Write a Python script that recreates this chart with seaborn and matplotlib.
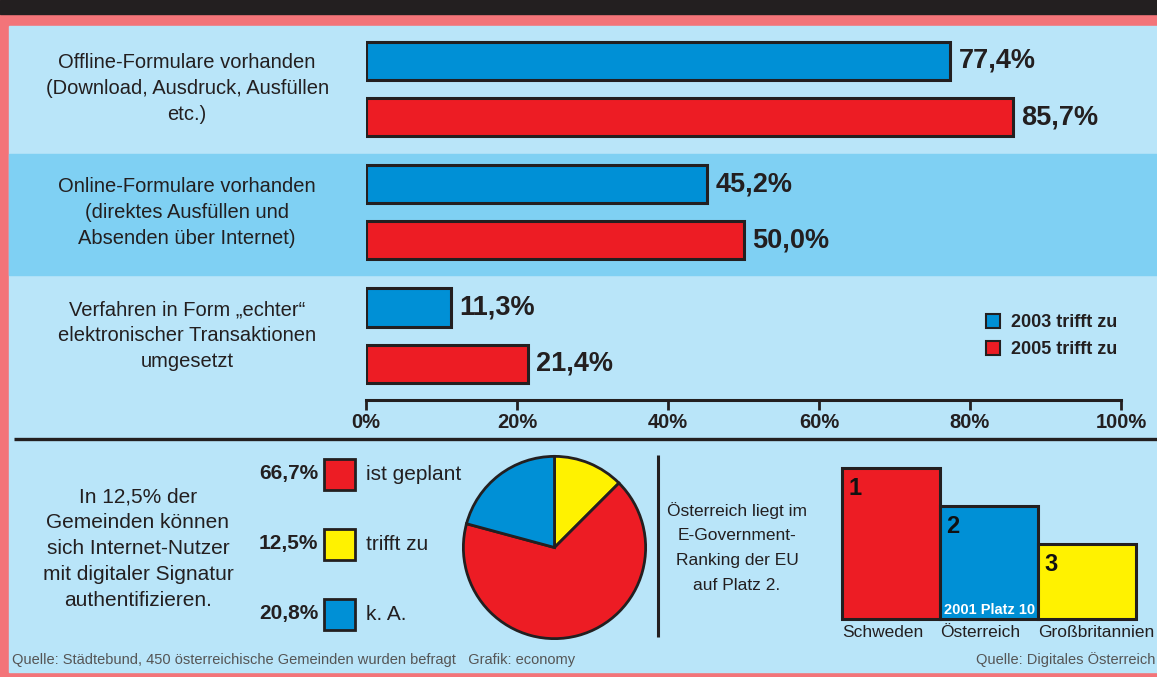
import matplotlib
matplotlib.use("Agg")
import matplotlib.pyplot as plt
from matplotlib.patches import Rectangle, Patch
import seaborn as sns
import pandas as pd

# --- data ---
categories = [
    "Offline-Formulare vorhanden\n(Download, Ausdruck, Ausfüllen\netc.)",
    "Online-Formulare vorhanden\n(direktes Ausfüllen und\nAbsenden über Internet)",
    "Verfahren in Form „echter“\nelektronischer Transaktionen\numgesetzt",
]
years = ["2003 trifft zu", "2005 trifft zu"]
values_2003 = [77.4, 45.2, 11.3]
values_2005 = [85.7, 50.0, 21.4]
x_ticks = [0, 20, 40, 60, 80, 100]

pie_labels = ["ist geplant", "trifft zu", "k. A."]
pie_values = [66.7, 12.5, 20.8]

intro_lines = ["In 12,5% der", "Gemeinden können", "sich Internet-Nutzer",
               "mit digitaler Signatur", "authentifizieren."]

rank_countries = ["Schweden", "Österreich", "Großbritannien"]
rank_places = [1, 2, 3]
rank_heights = [4, 3, 2]
rank_lines = ["Österreich liegt im", "E-Government-", "Ranking der EU", "auf Platz 2."]
austria_note = "2001 Platz 10"

source_left = "Quelle: Städtebund, 450 österreichische Gemeinden wurden befragt   Grafik: economy"
source_right = "Quelle: Digitales Österreich"

# colours
BLUE = "#0090d6"
RED = "#ed1c24"
YELLOW = "#fff200"
INK = "#231f20"
LIGHT = "#b9e5f9"
BAND = "#7fd0f3"
PINK = "#f37479"
GREY = "#555555"

sns.set_theme(style="white")
plt.rcParams["font.family"] = ["Liberation Sans", "DejaVu Sans"]

W, H = 1157, 677
fig = plt.figure(figsize=(W / 100, H / 100), dpi=100)


def px_axes(x0, y0, x1, y1):
    # axes placed by pixel box (top-left origin)
    return fig.add_axes([x0 / W, 1 - y1 / H, (x1 - x0) / W, (y1 - y0) / H])


# background
bg = px_axes(0, 0, W, H)
bg.set_xlim(0, W)
bg.set_ylim(H, 0)
bg.axis("off")
bg.add_patch(Rectangle((0, 0), W, H, color=PINK))
bg.add_patch(Rectangle((0, 0), W, 14, color=INK))
bg.add_patch(Rectangle((9, 26), W - 9, 646, color=LIGHT))
bg.add_patch(Rectangle((9, 154), W - 9, 121, color=BAND))
bg.plot([14, W], [439, 439], color=INK, lw=2.4, solid_capstyle="butt")
bg.plot([658, 658], [455, 637], color=INK, lw=2.2, solid_capstyle="butt")

# --- horizontal bars ---
ax = px_axes(366, 26, 1121, 400)
ax.set_facecolor("none")
df = pd.DataFrame({
    "cat": categories * 2,
    "year": [years[0]] * 3 + [years[1]] * 3,
    "value": values_2003 + values_2005,
})
sns.barplot(data=df, x="value", y="cat", hue="year", hue_order=years,
            palette=[BLUE, RED], saturation=1, orient="h", width=0.91, gap=0.32,
            edgecolor=INK, linewidth=2.2, errorbar=None, legend=False, ax=ax)

for container, vals in zip(ax.containers, [values_2003, values_2005]):
    ax.bar_label(container, labels=[f"{v:.1f}%".replace(".", ",") for v in vals],
                 padding=6, fontsize=19.5, fontweight="bold", color=INK)

ax.set_xlim(0, 100)
ax.set_ylim(2.523, -0.511)
ax.set_xlabel("")
ax.set_ylabel("")
for s in ["left", "top", "right"]:
    ax.spines[s].set_visible(False)
ax.spines["bottom"].set_linewidth(2.2)
ax.spines["bottom"].set_color(INK)
ax.set_xticks(x_ticks)
ax.set_xticklabels([f"{t}%" for t in x_ticks], fontsize=14.5, fontweight="bold")
ax.tick_params(axis="x", bottom=True, length=7, width=2, color=INK, pad=2, labelcolor=INK)
ax.tick_params(axis="y", left=False, labelleft=False)

for i, cat in enumerate(categories):
    lines = cat.split("\n")
    for j, line in enumerate(lines):
        off = (j - (len(lines) - 1) / 2) * 26
        ax.annotate(line, xy=(-0.237, i), xycoords=("axes fraction", "data"),
                    xytext=(0, -off * 0.72), textcoords="offset points",
                    ha="center", va="center", fontsize=14.5, color=INK)

handles = [Patch(facecolor=c, edgecolor=INK, linewidth=1.5, label=y)
           for c, y in zip([BLUE, RED], years)]
ax.legend(handles=handles, loc="upper left", bbox_to_anchor=(986 / W, 1 - 314 / H),
          bbox_transform=fig.transFigure, frameon=False,
          prop={"weight": "bold", "size": 13}, labelcolor=INK,
          handlelength=0.78, handleheight=0.78, handletextpad=0.6,
          labelspacing=0.55, borderpad=0, borderaxespad=0)

# --- pie ---
pie_colors = [RED, YELLOW, BLUE]
order = [1, 0, 2]  # clockwise from top: trifft zu, ist geplant, k. A.
pax = px_axes(462, 455, 647, 640)
pax.pie([pie_values[k] for k in order], colors=[pie_colors[k] for k in order],
        startangle=90, counterclock=False,
        wedgeprops=dict(edgecolor=INK, linewidth=2))
pax.set_xlim(-1.015, 1.015)
pax.set_ylim(-1.015, 1.015)

for k, (lab, val, col) in enumerate(zip(pie_labels, pie_values, pie_colors)):
    y = 474 + k * 70
    bg.add_patch(Rectangle((324, y - 15.5), 31, 31, facecolor=col, edgecolor=INK, lw=2))
    bg.text(318, y, f"{val:.1f}%".replace(".", ","), ha="right", va="center",
            fontsize=15, fontweight="bold", color=INK)
    bg.text(366, y, lab, ha="left", va="center", fontsize=15, color=INK)

for j, line in enumerate(intro_lines):
    bg.text(138, 497 + j * 25.75, line, ha="center", va="center", fontsize=15, color=INK)

for j, line in enumerate(rank_lines):
    bg.text(737, 511 + j * 25, line, ha="center", va="center", fontsize=12.5, color=INK)

# --- ranking podium ---
rax = px_axes(842, 468, 1136, 619)
rax.set_facecolor("none")
sns.barplot(x=rank_countries, y=rank_heights, hue=rank_countries,
            palette=[RED, BLUE, YELLOW], saturation=1, width=1.0, edgecolor=INK,
            linewidth=2.2, legend=False, ax=rax)
rax.set_xlim(-0.5, 2.5)
rax.set_ylim(0, 4)
for p in rax.patches:
    p.set_clip_on(False)
for s in rax.spines.values():
    s.set_visible(False)
rax.set_yticks([])
rax.set_xlabel("")
rax.set_ylabel("")
# country names sit left-aligned under each bar
rax.set_xticks([i - 0.5 for i in range(len(rank_countries))])
rax.set_xticklabels(rank_countries, ha="left")
rax.tick_params(axis="x", length=0, pad=4, labelsize=12.5, labelcolor=INK)

for i, (h, r) in enumerate(zip(rank_heights, rank_places)):
    rax.annotate(str(r), xy=(i - 0.5, h), xytext=(4.5, -6.5), textcoords="offset points",
                 ha="left", va="top", fontsize=17, fontweight="bold", color="#111111")
rax.annotate(austria_note, xy=(0.5, 0), xytext=(3, 3.6), textcoords="offset points",
             ha="left", va="baseline", fontsize=10.5, fontweight="bold", color="white")

# sources
bg.text(12, 660, source_left, ha="left", va="center", fontsize=10.5, color=GREY)
bg.text(1155, 660, source_right, ha="right", va="center", fontsize=10.5, color=GREY)

fig.savefig("out.png", dpi=100)
